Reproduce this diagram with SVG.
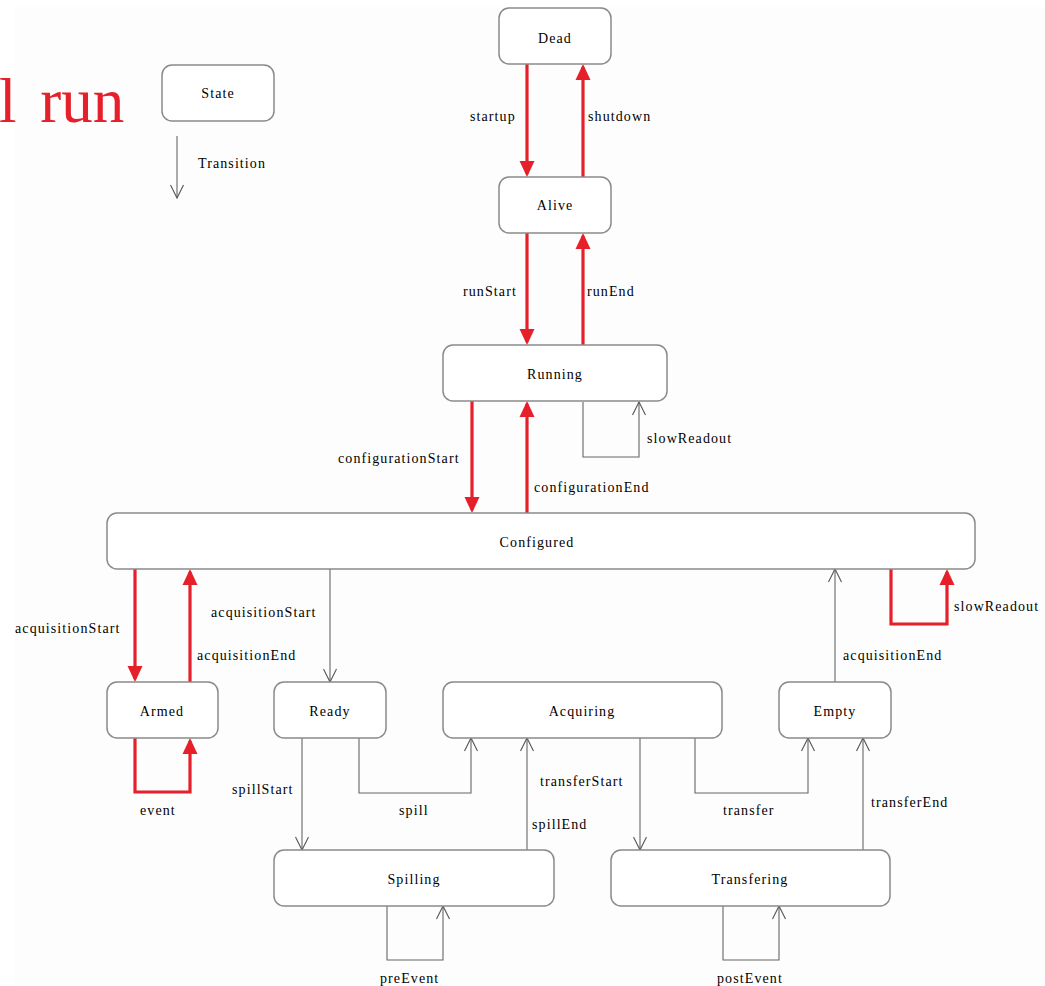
<svg xmlns="http://www.w3.org/2000/svg" width="1045" height="986" viewBox="0 0 1045 986">
<style>
.bg{fill:#fdfdfd}
.node rect{fill:#ffffff;stroke:#8a8a8a;stroke-width:1.5}
text{font-family:"Liberation Serif","Times New Roman",serif;font-size:14px;fill:#000000;letter-spacing:1.1px}
.node text{text-anchor:middle}
.red{fill:none;stroke:#e5202a;stroke-width:3.2;stroke-linejoin:miter}
.gray{fill:none;stroke:#666666;stroke-width:1.1}
.title{font-size:63px;fill:#e5202a;letter-spacing:0;word-spacing:8px}
</style>
<defs>
<marker id="ra" markerUnits="userSpaceOnUse" markerWidth="17" markerHeight="17" viewBox="0 0 17 17" refX="13" refY="8.5" orient="auto">
<path d="M0,1 L16,8.5 L0,16 Z" fill="#e5202a"/>
</marker>
<marker id="ga" markerUnits="userSpaceOnUse" markerWidth="16" markerHeight="16" viewBox="0 0 16 16" refX="14" refY="8" orient="auto">
<path d="M1,1.5 L14,8 L1,14.5" fill="none" stroke="#555555" stroke-width="1.1"/>
</marker>
</defs>
<rect class="bg" x="14" y="7" width="1031" height="979"/>
<text class="title" x="-1" y="122">l run</text>

<g id="connectors">
<path class="gray" d="M177,136 L177,198" marker-end="url(#ga)"/>
<path class="red" d="M527,64 L527,174" marker-end="url(#ra)"/>
<path class="red" d="M583,177 L583,67" marker-end="url(#ra)"/>
<path class="red" d="M527,233 L527,342" marker-end="url(#ra)"/>
<path class="red" d="M583,345 L583,236" marker-end="url(#ra)"/>
<path class="red" d="M472,401 L472,510" marker-end="url(#ra)"/>
<path class="red" d="M527,513 L527,404" marker-end="url(#ra)"/>
<path class="gray" d="M583,402 L583,457 L639,457 L639,402" marker-end="url(#ga)"/>
<path class="red" d="M135,569 L135,679" marker-end="url(#ra)"/>
<path class="red" d="M190,682 L190,572" marker-end="url(#ra)"/>
<path class="red" d="M135,738 L135,792 L190,792 L190,741" marker-end="url(#ra)"/>
<path class="red" d="M891,569 L891,624 L947,624 L947,572" marker-end="url(#ra)"/>
<path class="gray" d="M330,569 L330,682" marker-end="url(#ga)"/>
<path class="gray" d="M302,738 L302,850" marker-end="url(#ga)"/>
<path class="gray" d="M359,738 L359,793 L471,793 L471,738" marker-end="url(#ga)"/>
<path class="gray" d="M527,850 L527,738" marker-end="url(#ga)"/>
<path class="gray" d="M640,738 L640,850" marker-end="url(#ga)"/>
<path class="gray" d="M695,738 L695,793 L808,793 L808,738" marker-end="url(#ga)"/>
<path class="gray" d="M863,850 L863,738" marker-end="url(#ga)"/>
<path class="gray" d="M835,682 L835,569" marker-end="url(#ga)"/>
<path class="gray" d="M387,906 L387,960 L443,960 L443,906" marker-end="url(#ga)"/>
<path class="gray" d="M723,906 L723,960 L779,960 L779,906" marker-end="url(#ga)"/>
</g>

<g id="connector-labels">
<text x="198" y="168">Transition</text>
<text x="470" y="121">startup</text>
<text x="588" y="121">shutdown</text>
<text x="463" y="296">runStart</text>
<text x="587" y="296">runEnd</text>
<text x="338" y="463">configurationStart</text>
<text x="534" y="492">configurationEnd</text>
<text x="647" y="443">slowReadout</text>
<text x="15" y="633">acquisitionStart</text>
<text x="211" y="617">acquisitionStart</text>
<text x="197" y="660">acquisitionEnd</text>
<text x="140" y="815">event</text>
<text x="232" y="794">spillStart</text>
<text x="399" y="815">spill</text>
<text x="540" y="786">transferStart</text>
<text x="532" y="829">spillEnd</text>
<text x="723" y="815">transfer</text>
<text x="871" y="807">transferEnd</text>
<text x="843" y="660">acquisitionEnd</text>
<text x="954" y="611">slowReadout</text>
<text x="380" y="983">preEvent</text>
<text x="717" y="983">postEvent</text>
</g>

<g id="node-state" class="node"><rect x="162" y="65" width="112" height="56" rx="10"/><text x="218" y="98">State</text></g>
<g id="node-dead" class="node"><rect x="499" y="8" width="112" height="56" rx="10"/><text x="555" y="43">Dead</text></g>
<g id="node-alive" class="node"><rect x="499" y="177" width="112" height="56" rx="10"/><text x="555" y="210">Alive</text></g>
<g id="node-running" class="node"><rect x="443" y="345" width="224" height="56" rx="10"/><text x="555" y="379">Running</text></g>
<g id="node-configured" class="node"><rect x="107" y="513" width="868" height="56" rx="10"/><text x="537" y="547">Configured</text></g>
<g id="node-armed" class="node"><rect x="107" y="682" width="111" height="56" rx="10"/><text x="162" y="716">Armed</text></g>
<g id="node-ready" class="node"><rect x="274" y="682" width="112" height="56" rx="10"/><text x="330" y="716">Ready</text></g>
<g id="node-acquiring" class="node"><rect x="443" y="682" width="279" height="56" rx="10"/><text x="582" y="716">Acquiring</text></g>
<g id="node-empty" class="node"><rect x="779" y="682" width="112" height="56" rx="10"/><text x="835" y="716">Empty</text></g>
<g id="node-spilling" class="node"><rect x="274" y="850" width="280" height="56" rx="10"/><text x="414" y="884">Spilling</text></g>
<g id="node-transfering" class="node"><rect x="611" y="850" width="279" height="56" rx="10"/><text x="750" y="884">Transfering</text></g>
</svg>
